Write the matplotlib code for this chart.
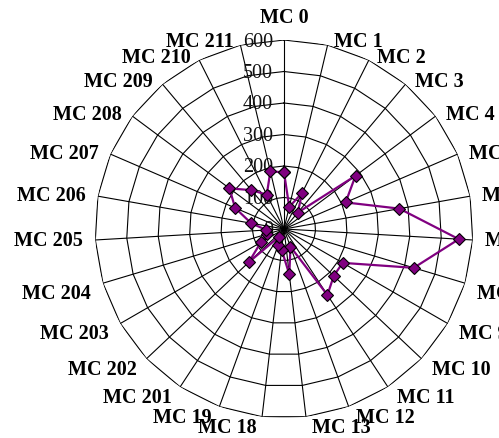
import numpy as np
import matplotlib
matplotlib.use("Agg")
import matplotlib.pyplot as plt
from matplotlib.transforms import offset_copy

categories = ["MC 0", "MC 1", "MC 2", "MC 3", "MC 4", "MC 5", "MC 6", "MC 7", "MC 8",
              "MC 9", "MC 10", "MC 11", "MC 12", "MC 13", "MC 18", "MC 19", "MC 201",
              "MC 202", "MC 203", "MC 204", "MC 205", "MC 206", "MC 207", "MC 208",
              "MC 209", "MC 210", "MC 211"]
values = [180, 72, 128, 68, 283, 213, 372, 556, 430, 215, 217, 251, 60, 145, 66, 54, 30,
          154, 85, 55, 56, 106, 169, 216, 161, 122, 188]
rings = [0, 100, 200, 300, 400, 500, 600]
rmax = 600

fig = plt.figure(figsize=(4.99, 4.39), dpi=100)
fig.patch.set_facecolor("white")
ax = fig.add_axes([0.1904, 0.0456, 0.7575, 0.861], projection="polar")
ax.set_theta_zero_location("N")
ax.set_theta_direction(-1)
ax.set_ylim(0, rmax)
ax.grid(False)
ax.spines["polar"].set_visible(False)
ax.set_xticks([])
ax.set_yticks([])
ax.patch.set_alpha(0)

n = len(categories)
angles = np.arange(n) * 2 * np.pi / n
closed = np.concatenate([angles, angles[:1]])

# grid rings (polygons) and spokes
for r in rings[1:]:
    ax.plot(closed, [r] * (n + 1), color="black", lw=0.8, zorder=1)
for a in angles:
    ax.plot([a, a], [0, rmax], color="black", lw=0.8, zorder=1)

# data
ax.plot(closed, values + values[:1], color="#800080", lw=1.6, zorder=3,
        marker="D", markersize=6.3, markerfacecolor="#800080",
        markeredgecolor="black", markeredgewidth=0.8, clip_on=False)

# radial tick labels
for r in rings:
    tr = offset_copy(ax.transData, fig=fig, x=-11, y=-1, units="dots")
    ax.text(0, r, str(r), transform=tr, ha="right", va="center",
            fontsize=14.5, family="Liberation Serif", color="#111111", zorder=2)

# category labels
for a, lab in zip(angles, categories):
    s, c = np.sin(a), np.cos(a)
    if abs(s) < 0.01:
        ha, va, dx, dy = "center", "bottom", 0, 13
    else:
        ha = "left" if s > 0 else "right"
        dx = np.sign(s) * (5 + 7 * abs(s))
        if c < -0.1:
            va, dy = "top", 0
        else:
            va, dy = "center", 4 * c
    tr = offset_copy(ax.transData, fig=fig, x=dx, y=dy, units="dots")
    ax.text(a, rmax, lab, transform=tr, ha=ha, va=va, fontsize=14.5,
            fontweight="bold", family="Liberation Serif", color="black",
            clip_on=False)

fig.savefig("out.png", dpi=100)
